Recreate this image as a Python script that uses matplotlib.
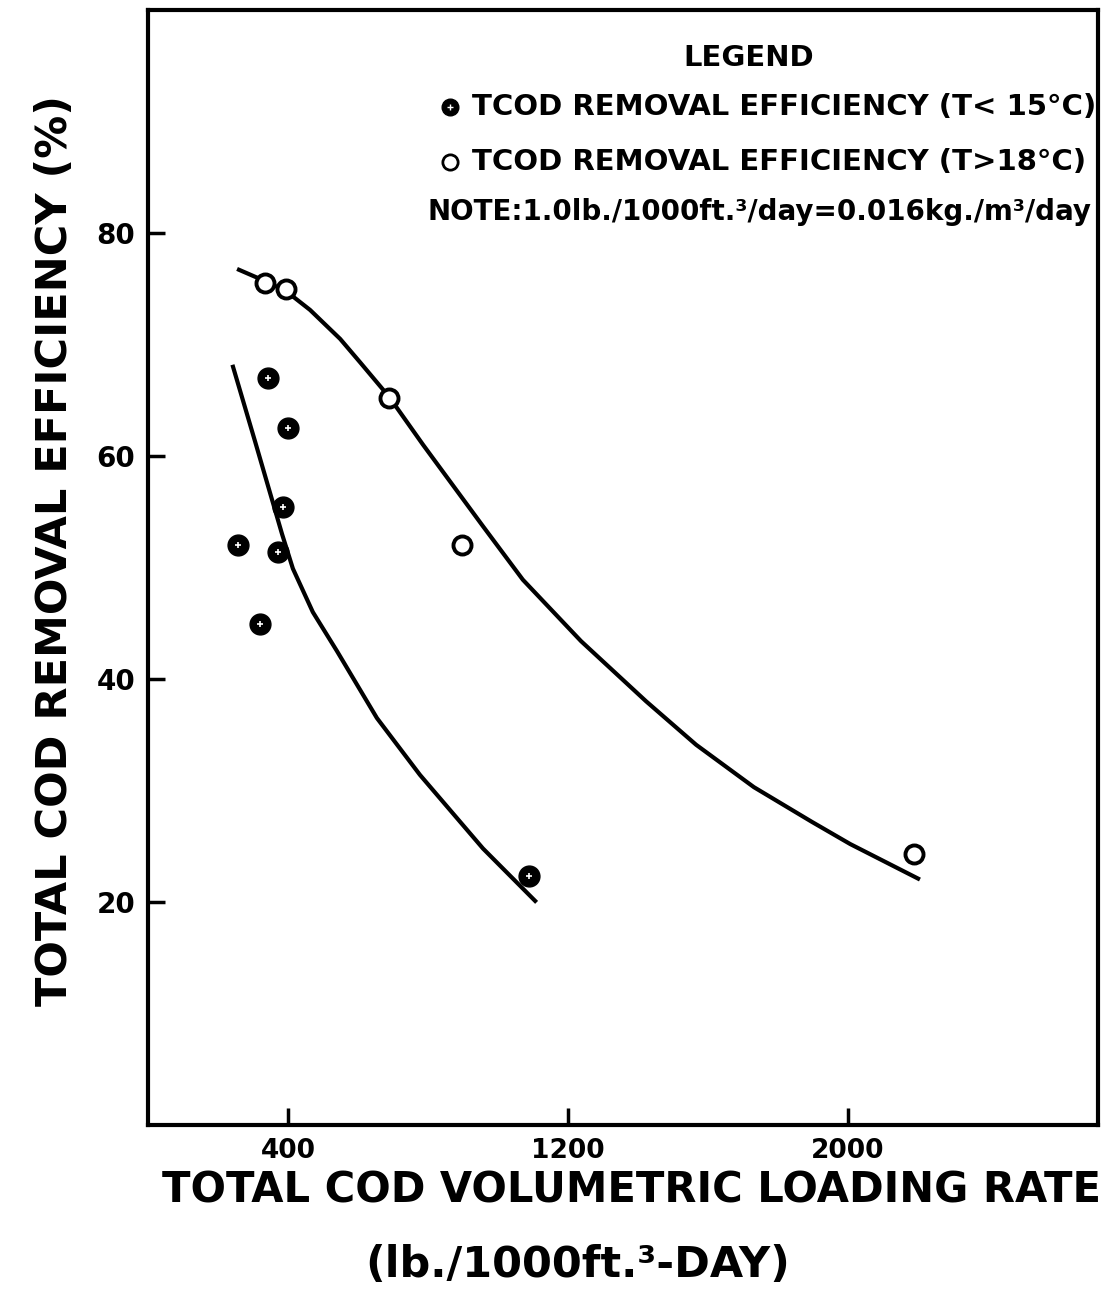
import numpy as np
import matplotlib
matplotlib.use("Agg")
import matplotlib.pyplot as plt

# ---- data ----
# T < 15 C (filled markers)
cold_x = [342, 399, 387, 258, 372, 320, 1088]
cold_y = [67.0, 62.5, 55.4, 52.0, 51.4, 44.9, 22.3]
# T > 18 C (open markers)
warm_x = [334, 393, 689, 897, 2189]
warm_y = [75.5, 75.0, 65.2, 52.0, 24.3]

# hand drawn trend curves
cold_curve_x = [243, 306, 383, 414, 471, 540, 654, 777, 957, 1106]
cold_curve_y = [68.0, 61.3, 53.0, 49.9, 46.0, 42.5, 36.5, 31.4, 24.8, 20.1]
warm_curve_x = [260, 326, 394, 463, 549, 606, 689, 786, 957, 1071, 1237,
                1423, 1566, 1731, 1896, 2006, 2200]
warm_curve_y = [76.7, 75.8, 74.8, 73.1, 70.5, 68.4, 65.3, 61.0, 53.7, 48.9, 43.4,
                38.0, 34.1, 30.3, 27.2, 25.2, 22.1]

xticks = [400, 1200, 2000]
yticks = [20, 40, 60, 80]

font = ['DejaVu Sans']

fig = plt.figure(figsize=(11.1, 13.1), dpi=100)
ax = fig.add_axes([0.1333, 0.1412, 0.8559, 0.8512])
lw = 3

ax.plot(cold_curve_x, cold_curve_y, 'k-', lw=lw, solid_joinstyle='round')
ax.plot(warm_curve_x, warm_curve_y, 'k-', lw=lw, solid_joinstyle='round')

ax.plot(warm_x, warm_y, 'o', ms=13, mfc='white', mec='black', mew=2.8, zorder=5)
ax.plot(cold_x, cold_y, 'o', ms=15, mfc='black', mec='black', zorder=5)
ax.plot(cold_x, cold_y, '+', ms=5, color='white', mew=1.2, zorder=6)

ax.set_xlim(0, 2714)
ax.set_ylim(0, 100)
ax.set_xticks(xticks)
ax.set_yticks(yticks)
ax.set_xticklabels([str(t) for t in xticks], family=font, weight='bold', fontsize=19)
ax.set_yticklabels([str(t) for t in yticks], family=font, weight='bold', fontsize=20)
ax.tick_params(direction='in', length=12, width=2.5)
ax.tick_params(axis='x', pad=9)
ax.tick_params(axis='y', pad=9)
for s in ax.spines.values():
    s.set_linewidth(3)

# legend drawn by hand
ax.text(0.632, 0.957, 'LEGEND', transform=ax.transAxes, ha='center', va='center',
        family=font, weight='bold', fontsize=21)
ax.plot([0.318], [0.913], 'o', transform=ax.transAxes, ms=12, mfc='black', mec='black', clip_on=False)
ax.plot([0.318], [0.913], '+', transform=ax.transAxes, ms=4, color='white', mew=1, clip_on=False)
ax.text(0.341, 0.913, 'TCOD REMOVAL EFFICIENCY (T< 15\u00b0C)', transform=ax.transAxes,
        ha='left', va='center', family=font, weight='bold', fontsize=21)
ax.plot([0.318], [0.864], 'o', transform=ax.transAxes, ms=11, mfc='white', mec='black', mew=2, clip_on=False)
ax.text(0.341, 0.864, 'TCOD REMOVAL EFFICIENCY (T>18\u00b0C)', transform=ax.transAxes,
        ha='left', va='center', family=font, weight='bold', fontsize=21)
ax.text(0.294, 0.819, 'NOTE:1.0lb./1000ft.\u00b3/day=0.016kg./m\u00b3/day', transform=ax.transAxes,
        ha='left', va='center', family=font, weight='bold', fontsize=20)

fig.text(0.0495, 0.58, 'TOTAL COD REMOVAL EFFICIENCY (%)', rotation=90, ha='center', va='center',
         family=font, weight='bold', fontsize=31)
fig.text(0.569, 0.0916, 'TOTAL COD VOLUMETRIC LOADING RATE', ha='center', va='center',
         family=font, weight='bold', fontsize=30)
fig.text(0.52, 0.034, '(lb./1000ft.\u00b3-DAY)', ha='center', va='center',
         family=font, weight='bold', fontsize=31)

fig.savefig('out.png', dpi=100)
